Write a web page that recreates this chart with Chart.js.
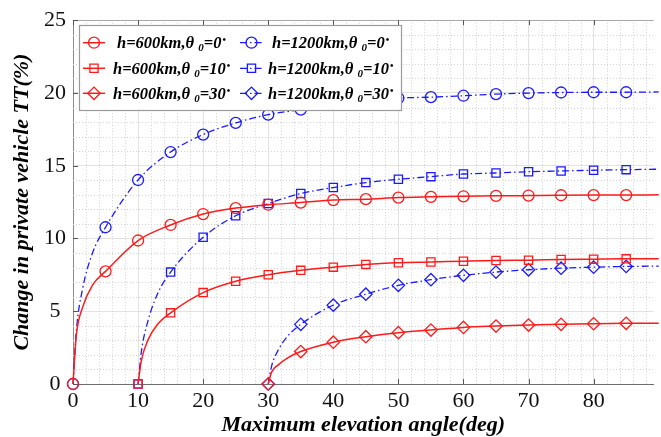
<!DOCTYPE html>
<html><head><meta charset="utf-8">
<script src="https://cdn.jsdelivr.net/npm/chart.js@4.4.1/dist/chart.umd.min.js"></script>
<style>html,body{margin:0;padding:0;background:#fff;overflow:hidden}</style>
</head><body>
<canvas id="c" width="661" height="437"></canvas>
<script>
// ---- data ----
const xTickValues = [0, 10, 20, 30, 40, 50, 60, 70, 80];
const yTickValues = [0, 5, 10, 15, 20, 25];
const altitudes = ['600', '1200'];
const minAngles = ['0', '10', '30'];

const angles_t0  = [0, 0.5, 1.5, 3, 5, 10, 15, 20, 25, 30, 35, 40, 45, 50, 55, 60, 65, 70, 75, 80, 85, 90];
const h600_t0    = [0, 3.3, 5.3, 6.8, 7.74, 9.86, 10.93, 11.68, 12.09, 12.32, 12.47, 12.64, 12.70, 12.81, 12.86, 12.90, 12.93, 12.95, 12.97, 12.98, 12.98, 13.0];
const h1200_t0   = [0, 3.6, 6.6, 9.0, 10.77, 14.02, 15.94, 17.14, 17.94, 18.51, 18.85, 19.2, 19.45, 19.65, 19.71, 19.81, 19.92, 19.99, 20.03, 20.05, 20.05, 20.07];

const angles_t10 = [10, 10.5, 11.5, 13, 15, 20, 25, 30, 35, 40, 45, 50, 55, 60, 65, 70, 75, 80, 85, 90];
const h600_t10   = [0, 1.6, 3.0, 4.1, 4.89, 6.28, 7.06, 7.51, 7.81, 8.03, 8.22, 8.33, 8.38, 8.44, 8.49, 8.51, 8.56, 8.58, 8.60, 8.61];
const h1200_t10  = [0, 2.2, 4.3, 6.2, 7.69, 10.08, 11.56, 12.40, 13.09, 13.50, 13.84, 14.07, 14.25, 14.43, 14.50, 14.59, 14.64, 14.69, 14.73, 14.76];

const angles_t30 = [30, 30.5, 31.5, 33, 35, 40, 45, 50, 55, 60, 65, 70, 75, 80, 85, 90];
const h600_t30   = [0, 0.8, 1.3, 1.8, 2.23, 2.87, 3.25, 3.53, 3.71, 3.89, 3.98, 4.05, 4.10, 4.14, 4.17, 4.18];
const h1200_t30  = [0, 1.2, 2.3, 3.3, 4.10, 5.42, 6.17, 6.78, 7.17, 7.47, 7.69, 7.85, 7.96, 8.03, 8.08, 8.10];

const xAxisTitle = 'Maximum elevation angle(deg)';
const yAxisTitle = 'Change in private vehicle TT(%)';

// ---- build datasets ----
const pts = (xs, ys) => xs.map((x, i) => ({x, y: ys[i]}));
const RED = '#ff1a1a', BLUE = '#1a1aff';
const markerSizes = {circle: 5.5, rect: 5.8, rectRot: 6.2};
function ds(label, data, color, style, dashed) {
  return {
    label, data, borderColor: color, backgroundColor: 'rgba(0,0,0,0)',
    borderWidth: dashed ? 1.3 : 1.5,
    borderDash: dashed ? [7, 3, 1.5, 3] : [],
    pointStyle: style,
    pointBorderColor: color, pointBackgroundColor: 'rgba(0,0,0,0)', pointBorderWidth: 1.3,
    pointRadius: c => (c.raw && c.raw.x % 5 === 0 && c.raw.x <= 85) ? markerSizes[style] : 0,
    pointHoverRadius: 0,
    cubicInterpolationMode: 'monotone',
    clip: false
  };
}
const lab = (h, a) => `h=${h}km,θ₀=${a}°`;
const datasets = [
  ds(lab(altitudes[0], minAngles[0]), pts(angles_t0, h600_t0), RED, 'circle', false),
  ds(lab(altitudes[0], minAngles[1]), pts(angles_t10, h600_t10), RED, 'rect', false),
  ds(lab(altitudes[0], minAngles[2]), pts(angles_t30, h600_t30), RED, 'rectRot', false),
  ds(lab(altitudes[1], minAngles[0]), pts(angles_t0, h1200_t0), BLUE, 'circle', true),
  ds(lab(altitudes[1], minAngles[1]), pts(angles_t10, h1200_t10), BLUE, 'rect', true),
  ds(lab(altitudes[1], minAngles[2]), pts(angles_t30, h1200_t30), BLUE, 'rectRot', true)
];

// ---- plugins: minor grid, inward ticks, top border, legend ----
const decor = {
  id: 'decor',
  beforeDatasetsDraw(chart) {
    const {ctx, chartArea: a, scales: {x, y}} = chart;
    ctx.save();
    ctx.strokeStyle = '#d2d2d2'; ctx.lineWidth = 1; ctx.setLineDash([1, 2]);
    for (let v = 2; v < 89.2; v += 2) {
      if (v % 10 === 0) continue;
      const px = Math.round(x.getPixelForValue(v)) + 0.5;
      ctx.beginPath(); ctx.moveTo(px, a.top); ctx.lineTo(px, a.bottom); ctx.stroke();
    }
    for (let v = 1; v < 25; v++) {
      if (v % 5 === 0) continue;
      const py = Math.round(y.getPixelForValue(v)) + 0.5;
      ctx.beginPath(); ctx.moveTo(a.left, py); ctx.lineTo(a.right, py); ctx.stroke();
    }
    ctx.setLineDash([]);
    ctx.strokeStyle = '#a8a8a8';
    ctx.beginPath(); ctx.moveTo(a.left, Math.round(a.top) + 0.5); ctx.lineTo(a.right, Math.round(a.top) + 0.5); ctx.stroke();
    ctx.strokeStyle = '#555';
    xTickValues.forEach(v => {
      const px = Math.round(x.getPixelForValue(v)) + 0.5;
      ctx.beginPath(); ctx.moveTo(px, a.bottom); ctx.lineTo(px, a.bottom - 5); ctx.stroke();
      ctx.beginPath(); ctx.moveTo(px, a.top); ctx.lineTo(px, a.top + 5); ctx.stroke();
    });
    yTickValues.forEach(v => {
      const py = Math.round(y.getPixelForValue(v)) + 0.5;
      ctx.beginPath(); ctx.moveTo(a.left, py); ctx.lineTo(a.left + 5, py); ctx.stroke();
    });
    ctx.restore();
  },
  afterDatasetsDraw(chart) {
    const {ctx} = chart;
    ctx.save();
    const bx = 79, by = 25, bw = 322, bh = 85;
    ctx.fillStyle = '#fff'; ctx.fillRect(bx, by, bw, bh);
    ctx.strokeStyle = '#9a9a9a'; ctx.lineWidth = 1.2; ctx.strokeRect(bx + 0.5, by + 0.5, bw, bh);
    const rowsY = [42.7, 68.3, 93.3];
    const cols = [{l0: 83, l1: 105, m: 94, t: [117, 113, 113]}, {l0: 240, l1: 263, m: 251.5, t: [272, 268, 268]}];
    const big = 'italic bold 16.5px "Liberation Serif"';
    const small = 'italic bold 11px "Liberation Serif"';
    chart.data.datasets.forEach((d, i) => {
      const col = cols[Math.floor(i / 3)], r = i % 3, yy = rowsY[r];
      ctx.strokeStyle = d.borderColor; ctx.lineWidth = d.borderWidth;
      ctx.setLineDash(d.borderDash);
      ctx.beginPath(); ctx.moveTo(col.l0, yy); ctx.lineTo(col.l1, yy); ctx.stroke();
      ctx.setLineDash([]);
      ctx.lineWidth = 1.3;
      ctx.fillStyle = 'rgba(0,0,0,0)';
      Chart.helpers.drawPoint(ctx, {pointStyle: d.pointStyle, radius: markerSizes[d.pointStyle], borderWidth: 1.3, rotation: 0}, col.m, yy);
      // label text: h=...km,θ 0=..°
      const h = altitudes[Math.floor(i / 3)], a0 = minAngles[r];
      ctx.fillStyle = '#000'; ctx.textBaseline = 'alphabetic'; ctx.textAlign = 'left';
      let tx = col.t[r]; const base = yy + 5.5;
      ctx.font = big; const s1 = `h=${h}km,θ `; ctx.fillText(s1, tx, base); tx += ctx.measureText(s1).width;
      ctx.font = small; ctx.fillText('0', tx, base + 3); tx += ctx.measureText('0').width;
      ctx.font = big; const s2 = `=${a0}`; ctx.fillText(s2, tx, base); tx += ctx.measureText(s2).width + 1;
      ctx.font = 'bold 10px "Liberation Serif"'; ctx.fillText('•', tx, base - 5);
    });
    ctx.restore();
  }
};

const tickFont = {family: 'Liberation Serif', size: 22};
const titleFont = {family: 'Liberation Serif', size: 22, style: 'italic', weight: 'bold'};

new Chart(document.getElementById('c'), {
  type: 'line',
  data: {datasets},
  options: {
    responsive: false, animation: false, devicePixelRatio: 1,
    layout: {padding: {top: 18, right: 0, left: 0, bottom: 0}},
    plugins: {legend: {display: false}, tooltip: {enabled: false}},
    scales: {
      x: {
        type: 'linear', min: 0, max: 89.2,
        afterBuildTicks: s => { s.ticks = xTickValues.map(v => ({value: v})); },
        afterFit: s => { s.height = 53; },
        ticks: {font: tickFont, color: '#111', padding: 4, maxRotation: 0},
        grid: {color: '#e2e2e2', lineWidth: 1, drawTicks: false},
        border: {color: '#6e6e6e', width: 1},
        title: {display: true, text: xAxisTitle, font: titleFont, color: '#000', padding: {top: 0, bottom: -2}}
      },
      y: {
        type: 'linear', min: 0, max: 25,
        afterBuildTicks: s => { s.ticks = yTickValues.map(v => ({value: v})); },
        afterFit: s => { s.width = 73; },
        ticks: {font: tickFont, color: '#111', padding: 7, crossAlign: 'center'},
        grid: {color: '#e2e2e2', lineWidth: 1, drawTicks: false},
        border: {color: '#8a8a8a', width: 1},
        title: {display: true, text: yAxisTitle, font: titleFont, color: '#000', padding: {top: 9, bottom: 0}}
      }
    }
  },
  plugins: [decor]
});
</script>
</body></html>
